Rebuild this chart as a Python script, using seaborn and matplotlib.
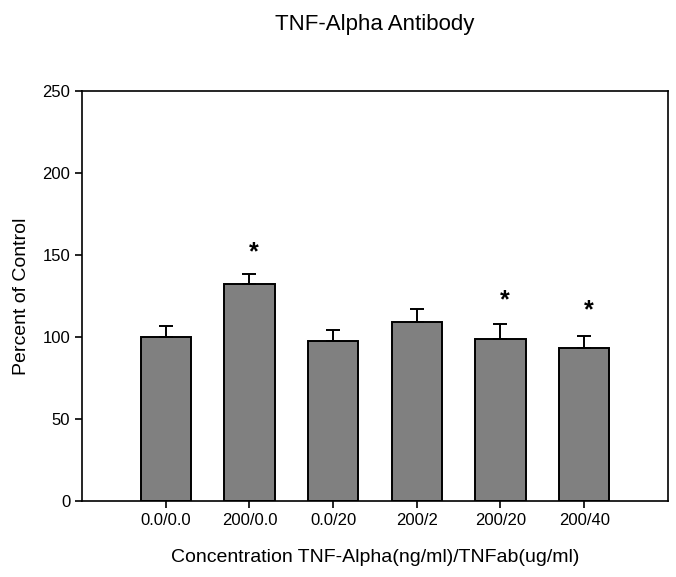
import matplotlib.pyplot as plt
import pandas as pd
import seaborn as sns

# Data
groups = ["0.0/0.0", "200/0.0", "0.0/20", "200/2", "200/20", "200/40"]
percent = [100.0, 132.5, 97.6, 109.0, 99.0, 93.5]
sem = [6.6, 5.9, 6.7, 8.3, 9.1, 6.9]
signif = [False, True, False, False, True, True]
star_y = [None, 151.5, None, None, 122.5, 116.5]

df = pd.DataFrame({"group": groups, "percent": percent, "sem": sem})

sns.set_style("ticks")
plt.rcParams["font.family"] = ["Liberation Sans", "DejaVu Sans"]
plt.rcParams["text.color"] = "black"
plt.rcParams["axes.labelcolor"] = "black"

fig = plt.figure(figsize=(6.76, 5.77), dpi=100)
ax = fig.add_axes([0.1213, 0.1317, 0.8667, 0.7106])

sns.barplot(data=df, x="group", y="percent", color="#808080", saturation=1,
            width=0.6, edgecolor="black", linewidth=1.4, errorbar=None, ax=ax)

# upper error bars only
ax.errorbar(range(len(groups)), df["percent"], yerr=[[0] * len(sem), df["sem"]],
            fmt="none", ecolor="black", elinewidth=1.4, capsize=5, capthick=1.4)

for i, s in enumerate(signif):
    if s:
        ax.text(i + 0.05, star_y[i], "*", ha="center", va="center",
                fontsize=18, fontweight="bold", color="black")

ax.set_xlim(-1, 6)
ax.set_ylim(0, 250)
ax.set_yticks([0, 50, 100, 150, 200, 250])
for sp in ax.spines.values():
    sp.set_visible(True)
    sp.set_linewidth(1.2)
    sp.set_color("black")
ax.tick_params(axis="both", labelsize=12, length=5, width=1.2, direction="out",
               colors="black")

ax.set_xlabel("Concentration TNF-Alpha(ng/ml)/TNFab(ug/ml)", fontsize=14)
ax.xaxis.label.set_va("baseline")
ax.xaxis.set_label_coords(0.5, -0.148)
ax.set_ylabel("Percent of Control", fontsize=14)
ax.yaxis.label.set_va("center")
ax.yaxis.set_label_coords(-0.104, 0.5)
ax.set_title("TNF-Alpha Antibody", fontsize=16, pad=44, color="black")

fig.savefig("out.png", dpi=100)
